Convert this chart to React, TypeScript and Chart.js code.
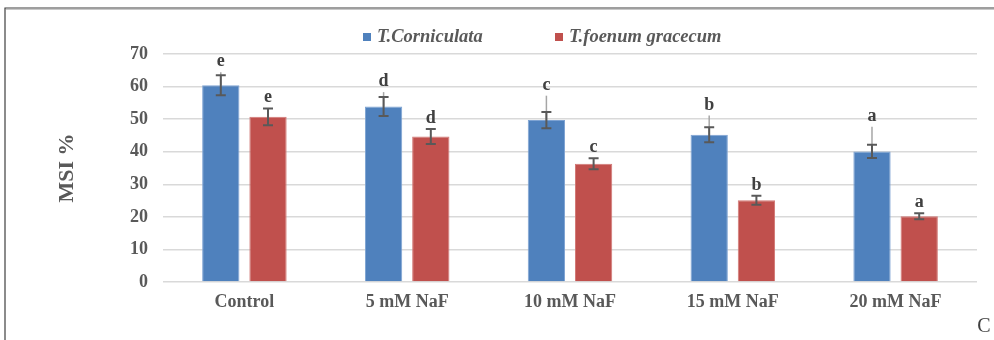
import React, { useEffect, useRef } from "react";
import { Chart, registerables } from "chart.js";

Chart.register(...registerables);

const categories = ["Control", "5 mM NaF", "10 mM NaF", "15 mM NaF", "20 mM NaF"];
const seriesNames = ["T.Corniculata", "T.foenum gracecum"];
const corniculata = [60.4, 53.9, 49.7, 45.2, 40.1];
const foenum = [50.7, 44.7, 36.3, 25.1, 20.2];
const corniculataErr = [3.1, 2.9, 2.5, 2.3, 2.0];
const foenumErr = [2.6, 2.3, 1.7, 1.4, 0.9];
const corniculataUpper = [4.0, 4.4, 7.5, 5.9, 7.6];
const foenumUpper = [2.6, 2.3, 1.7, 1.4, 0.9];
const corniculataLetters = ["e", "d", "c", "b", "a"];
const foenumLetters = ["e", "d", "c", "b", "a"];
const yTicks = [0, 10, 20, 30, 40, 50, 60, 70];

const BLUE = "#4f81bd";
const RED = "#c0504d";
const TEXT = "#595959";
const GRID = "#d9d9d9";
const SERIF = "'Liberation Serif', 'Times New Roman', serif";

const errs = [corniculataErr, foenumErr];
const uppers = [corniculataUpper, foenumUpper];
const letters = [corniculataLetters, foenumLetters];
const values = [corniculata, foenum];

const overlayPlugin = {
  id: "overlay",
  beforeDraw(chart: any) {
    const ctx = chart.ctx;
    ctx.save();
    ctx.fillStyle = "#ffffff";
    ctx.fillRect(0, 0, chart.width, chart.height);
    ctx.strokeStyle = "#c8c8c8";
    ctx.lineWidth = 1;
    ctx.beginPath();
    ctx.moveTo(6, 9.5);
    ctx.lineTo(chart.width, 9.5);
    ctx.stroke();
    ctx.strokeStyle = "#3f3f3f";
    ctx.lineWidth = 1.2;
    ctx.beginPath();
    ctx.moveTo(5, chart.height);
    ctx.lineTo(5, 8);
    ctx.lineTo(chart.width, 8);
    ctx.stroke();
    ctx.restore();
  },
  afterDatasetsDraw(chart: any) {
    const ctx = chart.ctx;
    const y = chart.scales.y;
    ctx.save();
    for (let d = 0; d < 2; d++) {
      const meta = chart.getDatasetMeta(d);
      meta.data.forEach((bar: any, j: number) => {
        const x = bar.x;
        const v = values[d][j];
        const e = errs[d][j];
        const up = uppers[d][j];
        const yv = y.getPixelForValue(v);
        const yHi = y.getPixelForValue(v + e);
        const yLo = y.getPixelForValue(v - e);
        const yUp = y.getPixelForValue(v + up);
        if (up > e) {
          ctx.strokeStyle = "#a6a6a6";
          ctx.lineWidth = 1.5;
          ctx.beginPath();
          ctx.moveTo(x, yv);
          ctx.lineTo(x, yUp);
          ctx.stroke();
        }
        ctx.strokeStyle = "#595959";
        ctx.lineWidth = 2;
        ctx.beginPath();
        ctx.moveTo(x, yHi);
        ctx.lineTo(x, yLo);
        ctx.moveTo(x - 5, yHi);
        ctx.lineTo(x + 5, yHi);
        ctx.moveTo(x - 5, yLo);
        ctx.lineTo(x + 5, yLo);
        ctx.stroke();
        const top = Math.min(yHi, yUp);
        ctx.fillStyle = "#404040";
        ctx.font = `bold 18px ${SERIF}`;
        ctx.textAlign = "center";
        ctx.textBaseline = "alphabetic";
        ctx.fillText(letters[d][j], x, top - 6);
      });
    }
    ctx.restore();
  },
  afterDraw(chart: any) {
    const ctx = chart.ctx;
    ctx.save();
    const items = [
      { x: 363, color: BLUE, text: seriesNames[0] },
      { x: 555, color: RED, text: seriesNames[1] },
    ];
    ctx.font = `italic bold 18.5px ${SERIF}`;
    ctx.textBaseline = "middle";
    ctx.textAlign = "left";
    items.forEach((it) => {
      ctx.fillStyle = it.color;
      ctx.fillRect(it.x, 33, 8, 8);
      ctx.fillStyle = TEXT;
      ctx.fillText(it.text, it.x + 14, 37.5);
    });
    ctx.fillStyle = "#404040";
    ctx.font = `20px ${SERIF}`;
    ctx.textAlign = "center";
    ctx.fillText("C", 984, 327);
    ctx.restore();
  },
};

export default function App() {
  const ref = useRef<HTMLCanvasElement>(null);
  useEffect(() => {
    if (!ref.current) return;
    const chart = new Chart(ref.current, {
      type: "bar",
      data: {
        labels: categories,
        datasets: [
          {
            label: seriesNames[0],
            data: corniculata,
            backgroundColor: BLUE,
            borderColor: "#7ea3d3",
            borderWidth: 1,
            categoryPercentage: 0.58,
            barPercentage: 0.79,
          },
          {
            label: seriesNames[1],
            data: foenum,
            backgroundColor: RED,
            borderColor: "#d27875",
            borderWidth: 1,
            categoryPercentage: 0.58,
            barPercentage: 0.79,
          },
        ],
      },
      options: {
        responsive: false,
        animation: false,
        devicePixelRatio: 1,
        layout: { padding: { left: 54, top: 54, right: 17, bottom: 10 } },
        plugins: {
          legend: { display: false },
          tooltip: { enabled: false },
        },
        scales: {
          x: {
            grid: { display: false },
            border: { display: false },
            ticks: {
              color: TEXT,
              padding: 2,
              font: { family: SERIF, size: 18, weight: "bold" },
            },
            afterFit: (s: any) => {
              s.height = 48;
            },
          },
          y: {
            min: 0,
            max: 70,
            afterBuildTicks: (s: any) => {
              s.ticks = yTicks.map((v) => ({ value: v }));
            },
            grid: { color: GRID, lineWidth: 1.5, drawTicks: false },
            border: { display: false },
            ticks: {
              color: TEXT,
              padding: 15,
              font: { family: SERIF, size: 18, weight: "bold" },
            },
            title: {
              display: true,
              text: "MSI %",
              color: TEXT,
              padding: { top: 0, bottom: 0 },
              font: { family: SERIF, size: 22, weight: "bold" },
            },
            afterFit: (s: any) => {
              s.width = 109;
            },
          },
        },
      },
      plugins: [overlayPlugin],
    });
    return () => chart.destroy();
  }, []);
  return (
    <div style={{ position: "fixed", left: 0, top: 0, width: 994, height: 340, background: "#fff" }}>
      <canvas ref={ref} width={994} height={340} style={{ display: "block" }} />
    </div>
  );
}
